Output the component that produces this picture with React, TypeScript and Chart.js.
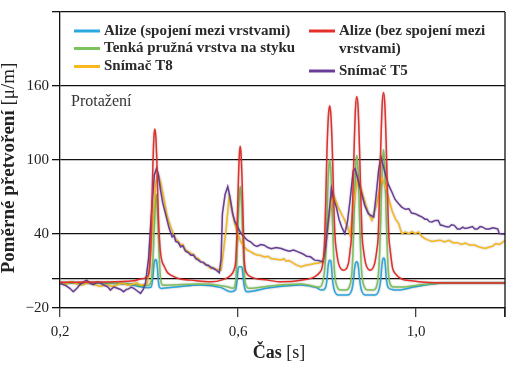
import React, { useEffect, useRef } from "react";
import { Chart, registerables } from "chart.js";

Chart.register(...registerables);

// ---- data (time in s, strain in µ/m) ----
const xTicks = [0.2, 0.6, 1.0, 1.2];
const yTicks = [-20, 4, 40, 100, 160, 220];
const yLabelled = [-20, 40, 100, 160];

const labels = [
  "Alize (spojení mezi vrstvami)",
  "Tenká pružná vrstva na styku",
  "Snímač T8",
  "Alize (bez spojení mezi vrstvami)",
  "Snímač T5",
];
const colors = ["#2aa9e1", "#7dc35b", "#f9b91c", "#e62e2b", "#6a3e98"];

const blueT = [0.2, 0.29, 0.358, 0.381, 0.397, 0.405, 0.409, 0.411, 0.413, 0.415, 0.417, 0.419, 0.421, 0.424, 0.428, 0.46, 0.516, 0.562, 0.584, 0.595, 0.598, 0.6, 0.603, 0.607, 0.61, 0.612, 0.615, 0.62, 0.668, 0.742, 0.776, 0.788, 0.796, 0.8, 0.802, 0.804, 0.806, 0.808, 0.81, 0.812, 0.816, 0.826, 0.846, 0.856, 0.86, 0.862, 0.865, 0.867, 0.869, 0.871, 0.873, 0.877, 0.887, 0.907, 0.917, 0.921, 0.923, 0.925, 0.927, 0.929, 0.931, 0.933, 0.937, 0.946, 0.957, 0.998, 1.036, 1.075, 1.2];
const blueV = [0.4, 0.3, -1, -2.8, -3.5, -3, 6, 15, 18.5, 19.3, 18, 12, 2, -3.5, -4.1, -3, -1.4, -3.5, -6.8, -5, 3, 11, 13.4, 13.4, 11, 3, -4, -6.8, -3.8, -1.4, -3.5, -5.5, -4, 3, 12, 17.5, 18.8, 18.5, 14, 4, -5, -9.5, -9.5, -5, 4, 12, 17, 17.4, 16.5, 12, 4, -5, -9.5, -9.5, -5, 4, 13, 19, 20.6, 20, 15, 5, -3, -5, -5.5, -2.8, -0.5, 0.4, 0.4];

const greenT = [0.2, 0.29, 0.358, 0.385, 0.399, 0.405, 0.409, 0.412, 0.415, 0.417, 0.419, 0.422, 0.425, 0.429, 0.435, 0.516, 0.573, 0.589, 0.595, 0.599, 0.602, 0.605, 0.608, 0.611, 0.615, 0.62, 0.625, 0.675, 0.742, 0.783, 0.791, 0.797, 0.8, 0.803, 0.806, 0.809, 0.812, 0.815, 0.818, 0.823, 0.83, 0.843, 0.85, 0.855, 0.858, 0.861, 0.864, 0.867, 0.87, 0.873, 0.876, 0.879, 0.884, 0.891, 0.904, 0.911, 0.915, 0.918, 0.921, 0.924, 0.927, 0.93, 0.933, 0.936, 0.939, 0.944, 0.95, 0.968, 1.014, 1.075, 1.2];
const greenV = [0.5, 0.4, -0.5, -2, -1.5, 2, 20, 45, 68, 72, 60, 30, 8, -1, -1.5, -0.5, -2.5, -4, 2, 35, 65, 78.5, 65, 35, 5, -3, -4, -2, -0.5, -3, 2, 22, 55, 88, 100.3, 88, 55, 22, 5, -3, -5.5, -5.5, -3, 5, 22, 55, 90, 103.6, 90, 55, 22, 5, -3, -5.5, -5.5, -3, 5, 22, 55, 93, 108.4, 93, 55, 22, 5, -2, -3, -3, -1, 0.4, 0.4];

const yellowT = [0.2, 0.207, 0.214, 0.22, 0.227, 0.234, 0.241, 0.252, 0.26, 0.268, 0.277, 0.29, 0.3, 0.308, 0.316, 0.324, 0.333, 0.342, 0.352, 0.365, 0.373, 0.381, 0.39, 0.396, 0.401, 0.408, 0.415, 0.42, 0.426, 0.433, 0.44, 0.445, 0.449, 0.455, 0.46, 0.466, 0.471, 0.476, 0.482, 0.488, 0.494, 0.5, 0.505, 0.511, 0.516, 0.522, 0.528, 0.533, 0.539, 0.545, 0.55, 0.556, 0.562, 0.567, 0.573, 0.58, 0.588, 0.593, 0.599, 0.606, 0.614, 0.621, 0.629, 0.636, 0.643, 0.651, 0.659, 0.667, 0.675, 0.686, 0.697, 0.703, 0.708, 0.714, 0.72, 0.726, 0.731, 0.737, 0.742, 0.75, 0.758, 0.765, 0.772, 0.781, 0.791, 0.799, 0.806, 0.814, 0.825, 0.833, 0.84, 0.846, 0.852, 0.859, 0.869, 0.882, 0.892, 0.901, 0.912, 0.923, 0.934, 0.946, 0.954, 0.961, 0.968, 0.976, 0.984, 0.991, 0.998, 1.006, 1.013, 1.021, 1.028, 1.036, 1.045, 1.054, 1.064, 1.074, 1.083, 1.093, 1.102, 1.111, 1.12, 1.131, 1.142, 1.156, 1.165, 1.172, 1.179, 1.187, 1.194, 1.2];
const yellowV = [1, 0, -1, 1, 1.5, 0, -1, -1.4, 0.5, 0, -1, -2.5, -1.5, -1, -2.5, -2, -0.5, 0, -1.5, -0.5, 0.5, -1.5, -1, 0, 10, 45, 80, 89.3, 82, 69.9, 56, 50, 45.7, 40, 36, 34, 30.9, 31.5, 27, 26, 24.2, 23.5, 21, 20, 17.4, 17, 15, 14, 12, 12.5, 11.5, 11, 10.7, 25, 43, 69.9, 56.5, 48, 40.3, 34, 29.5, 27, 25.5, 24, 23, 22.5, 21.4, 22, 20, 19.5, 19, 20, 18, 18.5, 17.4, 16, 15, 14, 13.4, 14.5, 15, 15.5, 16.1, 16.5, 17.4, 35, 56.5, 72.6, 61.8, 56, 51, 46, 39, 61.8, 86, 69.9, 58, 51, 64.6, 86, 75.3, 59.1, 52, 48.4, 40.3, 41.5, 40.3, 42, 40.3, 41.6, 38, 36, 35, 34, 34.5, 35, 33.5, 34.9, 33, 33, 31.5, 32.7, 31, 31, 29.5, 28.2, 29.5, 30, 32.2, 31.5, 33, 34.9];

const redT = [0.2, 0.29, 0.365, 0.381, 0.396, 0.401, 0.405, 0.408, 0.4105, 0.413, 0.4155, 0.418, 0.421, 0.425, 0.429, 0.433, 0.441, 0.449, 0.47, 0.494, 0.539, 0.566, 0.584, 0.591, 0.595, 0.598, 0.601, 0.603, 0.605, 0.607, 0.609, 0.612, 0.614, 0.62, 0.629, 0.667, 0.697, 0.742, 0.772, 0.784, 0.789, 0.794, 0.797, 0.8, 0.803, 0.806, 0.809, 0.812, 0.815, 0.818, 0.821, 0.826, 0.837, 0.848, 0.852, 0.855, 0.858, 0.861, 0.864, 0.867, 0.87, 0.873, 0.876, 0.879, 0.882, 0.887, 0.897, 0.907, 0.912, 0.915, 0.918, 0.921, 0.924, 0.927, 0.93, 0.933, 0.936, 0.939, 0.942, 0.947, 0.953, 0.968, 0.991, 1.02, 1.075, 1.2];
const redV = [0.8, 1, 2, 3.5, 5.3, 12, 40, 85, 115, 125.1, 118, 95, 55, 28, 18, 14.7, 9, 6.6, 3.5, 2.6, 1.2, 3, 6.6, 11, 18.8, 45, 85, 104, 111.1, 104, 85, 45, 18.8, 8, 5.3, 2.6, 1.2, 2.5, 5.3, 9, 13, 29.5, 65, 108, 135, 143.9, 135, 108, 68, 38, 27, 16, 10.7, 16, 27, 38, 70, 110, 142, 151.4, 142, 110, 70, 38, 27, 16, 10.7, 16, 27, 38, 72, 113, 145, 154.7, 145, 113, 72, 38, 27, 13, 8, 3.5, 2, 0.8, 0.3, 0.3];

const purpleT = [0.2, 0.207, 0.214, 0.222, 0.23, 0.238, 0.245, 0.252, 0.26, 0.268, 0.275, 0.283, 0.29, 0.296, 0.302, 0.308, 0.313, 0.321, 0.329, 0.336, 0.343, 0.349, 0.354, 0.36, 0.366, 0.373, 0.381, 0.387, 0.392, 0.399, 0.406, 0.412, 0.417, 0.421, 0.426, 0.431, 0.437, 0.445, 0.452, 0.456, 0.46, 0.466, 0.471, 0.476, 0.482, 0.488, 0.494, 0.5, 0.505, 0.51, 0.516, 0.522, 0.528, 0.534, 0.539, 0.545, 0.55, 0.558, 0.562, 0.565, 0.571, 0.577, 0.582, 0.588, 0.593, 0.599, 0.606, 0.614, 0.621, 0.629, 0.636, 0.643, 0.651, 0.659, 0.667, 0.675, 0.686, 0.697, 0.706, 0.715, 0.725, 0.735, 0.745, 0.754, 0.763, 0.772, 0.781, 0.791, 0.797, 0.803, 0.81, 0.815, 0.821, 0.827, 0.833, 0.84, 0.846, 0.852, 0.859, 0.863, 0.869, 0.878, 0.885, 0.893, 0.899, 0.905, 0.91, 0.916, 0.921, 0.931, 0.938, 0.946, 0.953, 0.961, 0.968, 0.976, 0.984, 0.99, 0.998, 1.006, 1.014, 1.02, 1.025, 1.03, 1.036, 1.043, 1.05, 1.055, 1.059, 1.066, 1.074, 1.08, 1.086, 1.093, 1.099, 1.105, 1.111, 1.118, 1.127, 1.132, 1.138, 1.144, 1.149, 1.157, 1.165, 1.172, 1.18, 1.184, 1.187, 1.2];
const purpleV = [0, -1, -2, -4, -6.8, -4, -1, 1, 2.6, 0, -1, 1, 0.5, -1, -2, -3, -5.5, -3, -4, -5, -6.8, -5, -4.5, -3, -4.1, -6, -8.1, -5, 0, 20, 60, 88, 93.3, 88, 75.3, 65, 56.5, 45, 37.6, 39, 34, 33, 29.5, 30.5, 26, 25, 22.8, 23, 20, 19, 17.4, 17, 15, 14.5, 13, 12, 11, 8.5, 20, 56.5, 72, 78.5, 70, 56.5, 50, 45.7, 41, 37.6, 35, 33.5, 31, 30, 31.5, 30.9, 29, 28, 29, 28.2, 27, 26, 27, 25.5, 24, 22, 21.5, 18.8, 18.5, 17.4, 30, 51, 76.7, 68, 61.8, 52, 45.7, 40.3, 50, 68, 91.4, 92.8, 85, 72.6, 63, 56.5, 55, 53.7, 70, 91.4, 102.7, 88.8, 80, 73.9, 68, 64.6, 61.8, 60, 60.5, 57, 56.5, 55, 53.7, 52, 52, 50, 49.7, 51, 51, 47, 47, 46, 45.7, 47.5, 47, 44, 44, 45.5, 44.4, 45, 46, 44, 44, 46, 45.7, 44, 44, 45, 44.4, 44, 40.3, 39.8];

const seriesT = [blueT, greenT, yellowT, redT, purpleT];
const seriesV = [blueV, greenV, yellowV, redV, purpleV];
const isSensor = [false, false, true, false, true];
// draw order: bottom to top
const drawOrder = [3, 4, 2, 1, 0];

const FONT = '"Liberation Serif", "DejaVu Serif", serif';

const overlay = {
  id: "overlay",
  beforeDatasetsDraw(chart: any) {
    const ctx = chart.ctx;
    ctx.save();
    ctx.shadowColor = "rgba(0,0,0,0.30)";
    ctx.shadowBlur = 2;
  },
  afterDatasetsDraw(chart: any) {
    chart.ctx.restore();
  },
  afterDraw(chart: any) {
    const ctx = chart.ctx;
    const a = chart.chartArea;
    ctx.save();
    // right frame
    ctx.strokeStyle = "#111";
    ctx.lineWidth = 1.3;
    ctx.beginPath();
    ctx.moveTo(a.right, a.top);
    ctx.lineTo(a.right, a.bottom + 9);
    ctx.stroke();

    // legend
    const leg = [
      { i: 0, lx: 74, ty: 31, lines: [labels[0]] },
      { i: 1, lx: 74, ty: 48.5, lines: [labels[1]] },
      { i: 2, lx: 74, ty: 66.5, lines: [labels[2]] },
      { i: 3, lx: 309, ty: 31, lines: ["Alize (bez spojení mezi", "vrstvami)"] },
      { i: 4, lx: 309, ty: 71, lines: [labels[4]] },
    ];
    ctx.font = `bold 15px ${FONT}`;
    ctx.textBaseline = "middle";
    ctx.textAlign = "left";
    leg.forEach((it) => {
      ctx.strokeStyle = colors[it.i];
      ctx.lineWidth = 3;
      ctx.beginPath();
      ctx.moveTo(it.lx, it.ty);
      ctx.lineTo(it.lx + 26, it.ty);
      ctx.stroke();
      ctx.fillStyle = "#2a2a2a";
      it.lines.forEach((s, k) => ctx.fillText(s, it.lx + 30, it.ty + k * 18.5));
    });

    // annotation
    ctx.font = `16px ${FONT}`;
    ctx.fillStyle = "#333";
    ctx.fillText("Protažení", 71, 101.5);

    // x title
    ctx.fillStyle = "#222";
    ctx.font = `bold 18px ${FONT}`;
    const b1 = "Čas";
    const w1 = ctx.measureText(b1).width;
    ctx.font = `18px ${FONT}`;
    const r1 = " [s]";
    const w2 = ctx.measureText(r1).width;
    const x0 = 279 - (w1 + w2) / 2;
    ctx.font = `bold 18px ${FONT}`;
    ctx.fillText(b1, x0, 353);
    ctx.font = `18px ${FONT}`;
    ctx.fillText(r1, x0 + w1, 353);

    // y title
    ctx.translate(9, 168);
    ctx.rotate(-Math.PI / 2);
    ctx.font = `bold 19px ${FONT}`;
    const b2 = "Poměrné přetvoření ";
    const w3 = ctx.measureText(b2).width;
    ctx.font = `19px ${FONT}`;
    const r2 = "[μ/m]";
    const w4 = ctx.measureText(r2).width;
    const s0 = -(w3 + w4) / 2;
    ctx.font = `bold 19px ${FONT}`;
    ctx.fillText(b2, s0, 0);
    ctx.font = `19px ${FONT}`;
    ctx.fillText(r2, s0 + w3, 0);
    ctx.restore();
  },
};

export default function App() {
  const ref = useRef<HTMLCanvasElement>(null);
  useEffect(() => {
    if (!ref.current) return;
    const datasets = drawOrder.map((i) => ({
      label: labels[i],
      data: seriesT[i].map((t, k) => ({ x: t, y: seriesV[i][k] })),
      borderColor: colors[i],
      borderWidth: 1.5,
      pointRadius: 0,
      fill: false,
      tension: isSensor[i] ? 0 : 0.4,
      cubicInterpolationMode: isSensor[i] ? ("default" as const) : ("monotone" as const),
    }));
    const chart = new Chart(ref.current, {
      type: "line",
      data: { datasets },
      options: {
        animation: false,
        responsive: false,
        devicePixelRatio: 1,
        layout: { padding: { left: 0, right: 23, top: 10, bottom: 0 } },
        plugins: { legend: { display: false }, tooltip: { enabled: false } },
        scales: {
          x: {
            type: "linear",
            min: 0.2,
            max: 1.2,
            afterBuildTicks: (s: any) => {
              s.ticks = xTicks.map((v) => ({ value: v }));
            },
            afterFit: (s: any) => {
              s.height = 57;
            },
            ticks: {
              color: "#222",
              font: { family: FONT, size: 15 },
              padding: 6,
              maxRotation: 0,
              autoSkip: false,
              callback: (v: any) => (v === 1.2 ? "" : Number(v).toFixed(1).replace(".", ",")),
            },
            grid: { drawOnChartArea: false, tickLength: 9, color: "#444", lineWidth: 1.3 },
            border: { display: true, color: "#111", width: 1.3 },
          },
          y: {
            type: "linear",
            min: -20,
            max: 220,
            afterBuildTicks: (s: any) => {
              s.ticks = yTicks.map((v) => ({ value: v }));
            },
            afterFit: (s: any) => {
              s.width = 60;
            },
            ticks: {
              color: "#222",
              font: { family: FONT, size: 15 },
              padding: 3,
              autoSkip: false,
              callback: (v: any) => (yLabelled.includes(v) ? (v < 0 ? "\u221220" : String(v)) : ""),
            },
            grid: { color: "#111", lineWidth: 1.3, tickLength: 8 },
            border: { display: true, color: "#111", width: 1.3 },
          },
        },
      },
      plugins: [overlay],
    });
    return () => chart.destroy();
  }, []);
  return (
    <div style={{ position: "fixed", left: 0, top: 0, width: 528, height: 365, background: "#fff" }}>
      <canvas ref={ref} width={528} height={365} />
    </div>
  );
}
